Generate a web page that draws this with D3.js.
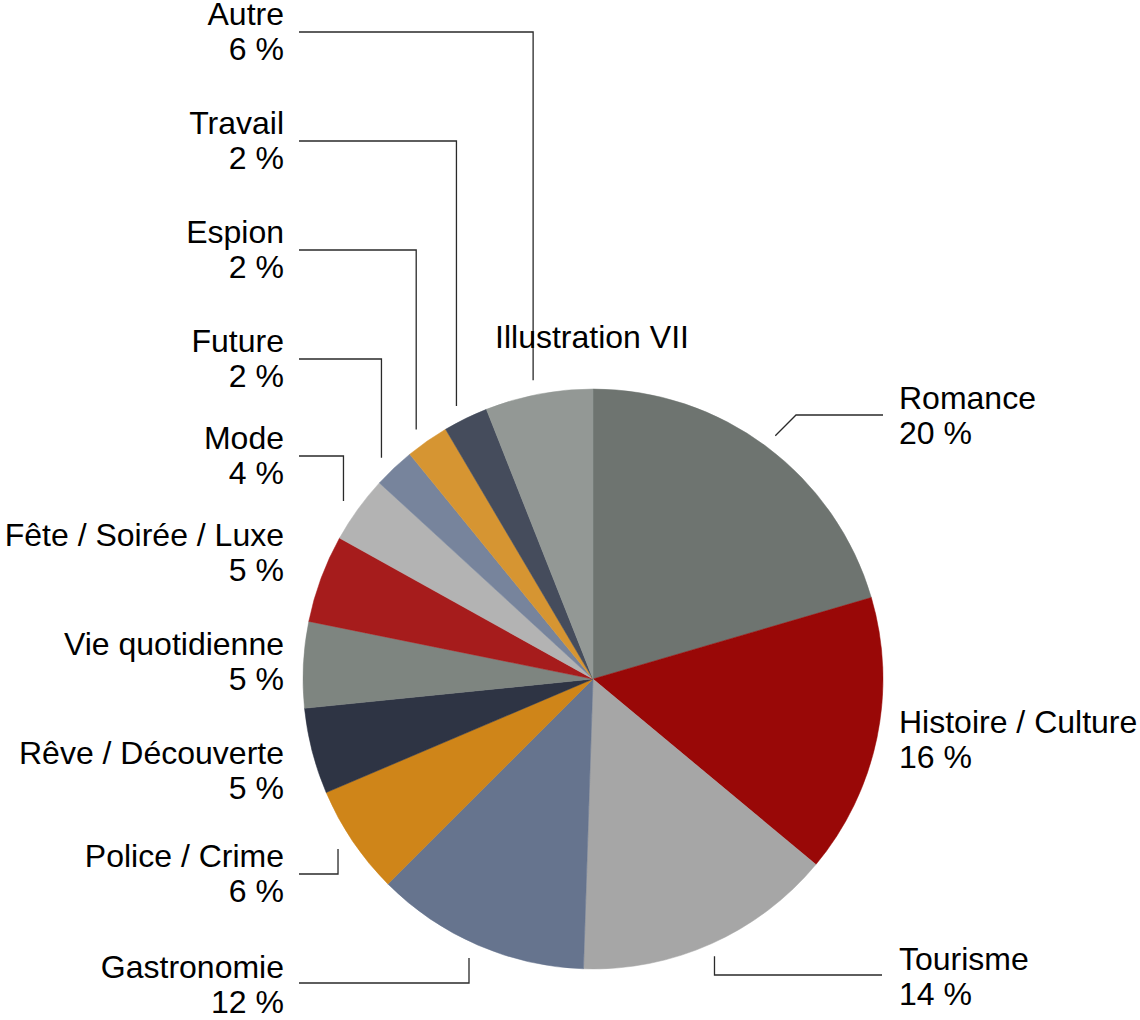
<!DOCTYPE html>
<html>
<head>
<meta charset="utf-8">
<script src="https://cdn.jsdelivr.net/npm/d3@7"></script>
<style>
  html, body { margin: 0; padding: 0; background: #fff; }
  svg text { font-family: "Liberation Sans", Arial, Helvetica, sans-serif; fill: #000; }
</style>
</head>
<body>
<svg id="chart" width="1140" height="1020"></svg>
<script>
// ---- data ----
const categories = ["Romance", "Histoire / Culture", "Tourisme", "Gastronomie", "Police / Crime",
  "Rêve / Découverte", "Vie quotidienne", "Fête / Soirée / Luxe", "Mode", "Future", "Espion", "Travail", "Autre"];
const values = [20.5, 15.6, 14.5, 12.0, 6.1, 4.8, 4.8, 4.9, 3.75, 2.3, 2.4, 2.5, 6.0];
const percentLabels = ["20 %", "16 %", "14 %", "12 %", "6 %", "5 %", "5 %", "5 %", "4 %", "2 %", "2 %", "2 %", "6 %"];
const colors = ["#6e7470", "#990807", "#a6a6a6", "#66748e", "#cf8519", "#2e3444", "#7e8580",
  "#a61c1c", "#b3b3b3", "#77849c", "#d69532", "#454c5c", "#939895"];
const title = "Illustration VII";

// ---- layout (label placement) ----
const cx = 593, cy = 679, R = 290;
const labelLayout = {
  "Romance":            { side: "R", y: 399, leader: "diag",  ly: 415 },
  "Histoire / Culture": { side: "R", y: 723, leader: null },
  "Tourisme":           { side: "R", y: 960, leader: "up",    ly: 975 },
  "Gastronomie":        { side: "L", y: 968, leader: "up",    ly: 983 },
  "Police / Crime":     { side: "L", y: 857, leader: "up",    ly: 874 },
  "Rêve / Découverte":  { side: "L", y: 754, leader: null },
  "Vie quotidienne":    { side: "L", y: 645, leader: null },
  "Fête / Soirée / Luxe": { side: "L", y: 536, leader: null },
  "Mode":               { side: "L", y: 439, leader: "down",  ly: 456 },
  "Future":             { side: "L", y: 342, leader: "down",  ly: 359 },
  "Espion":             { side: "L", y: 233, leader: "down",  ly: 250 },
  "Travail":            { side: "L", y: 124, leader: "down",  ly: 141 },
  "Autre":              { side: "L", y: 15,  leader: "down",  ly: 32 }
};

const data = categories.map((c, i) => ({ name: c, value: values[i], pct: percentLabels[i], color: colors[i] }));

const svg = d3.select("#chart");
const g = svg.append("g").attr("transform", `translate(${cx},${cy})`);

const pie = d3.pie().sort(null).value(d => d.value);
const arcs = pie(data);
const arc = d3.arc().innerRadius(0).outerRadius(R);
const leaderArc = d3.arc().innerRadius(R + 14).outerRadius(R + 14);

g.selectAll("path.slice")
  .data(arcs)
  .join("path")
  .attr("class", "slice")
  .attr("d", arc)
  .attr("fill", d => d.data.color)
  .attr("stroke", d => d.data.color)
  .attr("stroke-width", 0.5);

// leader lines
const line = d3.line();
arcs.forEach(a => {
  const L = labelLayout[a.data.name];
  if (!L || !L.leader) return;
  const [px, py] = leaderArc.centroid(a);
  let ex = px + cx, ey = py + cy;
  let pts;
  if (L.leader === "diag") {
    pts = [[ex, ey], [ex + (ey - L.ly), L.ly], [883, L.ly]];
  } else if (L.side === "L") {
    ex -= 3;
    pts = [[ex, ey], [ex, L.ly], [299, L.ly]];
  } else {
    ex -= 3;
    pts = [[ex, ey], [ex, L.ly], [882, L.ly]];
  }
  svg.append("path")
    .attr("d", line(pts))
    .attr("fill", "none")
    .attr("stroke", "#2a2a2a")
    .attr("stroke-width", 1.3);
});

// labels
const fs = 32, lh = 35;
arcs.forEach(a => {
  const L = labelLayout[a.data.name];
  const x = L.side === "L" ? 284 : 899;
  const anchor = L.side === "L" ? "end" : "start";
  const t = svg.append("text")
    .attr("x", x)
    .attr("y", L.y + 10)
    .attr("text-anchor", anchor)
    .attr("font-size", fs);
  t.append("tspan").attr("x", x).text(a.data.name);
  t.append("tspan").attr("x", x).attr("dy", lh).text(a.data.pct);
});

svg.append("text")
  .attr("x", 592)
  .attr("y", 338 + 10)
  .attr("text-anchor", "middle")
  .attr("font-size", fs)
  .text(title);
</script>
</body>
</html>
